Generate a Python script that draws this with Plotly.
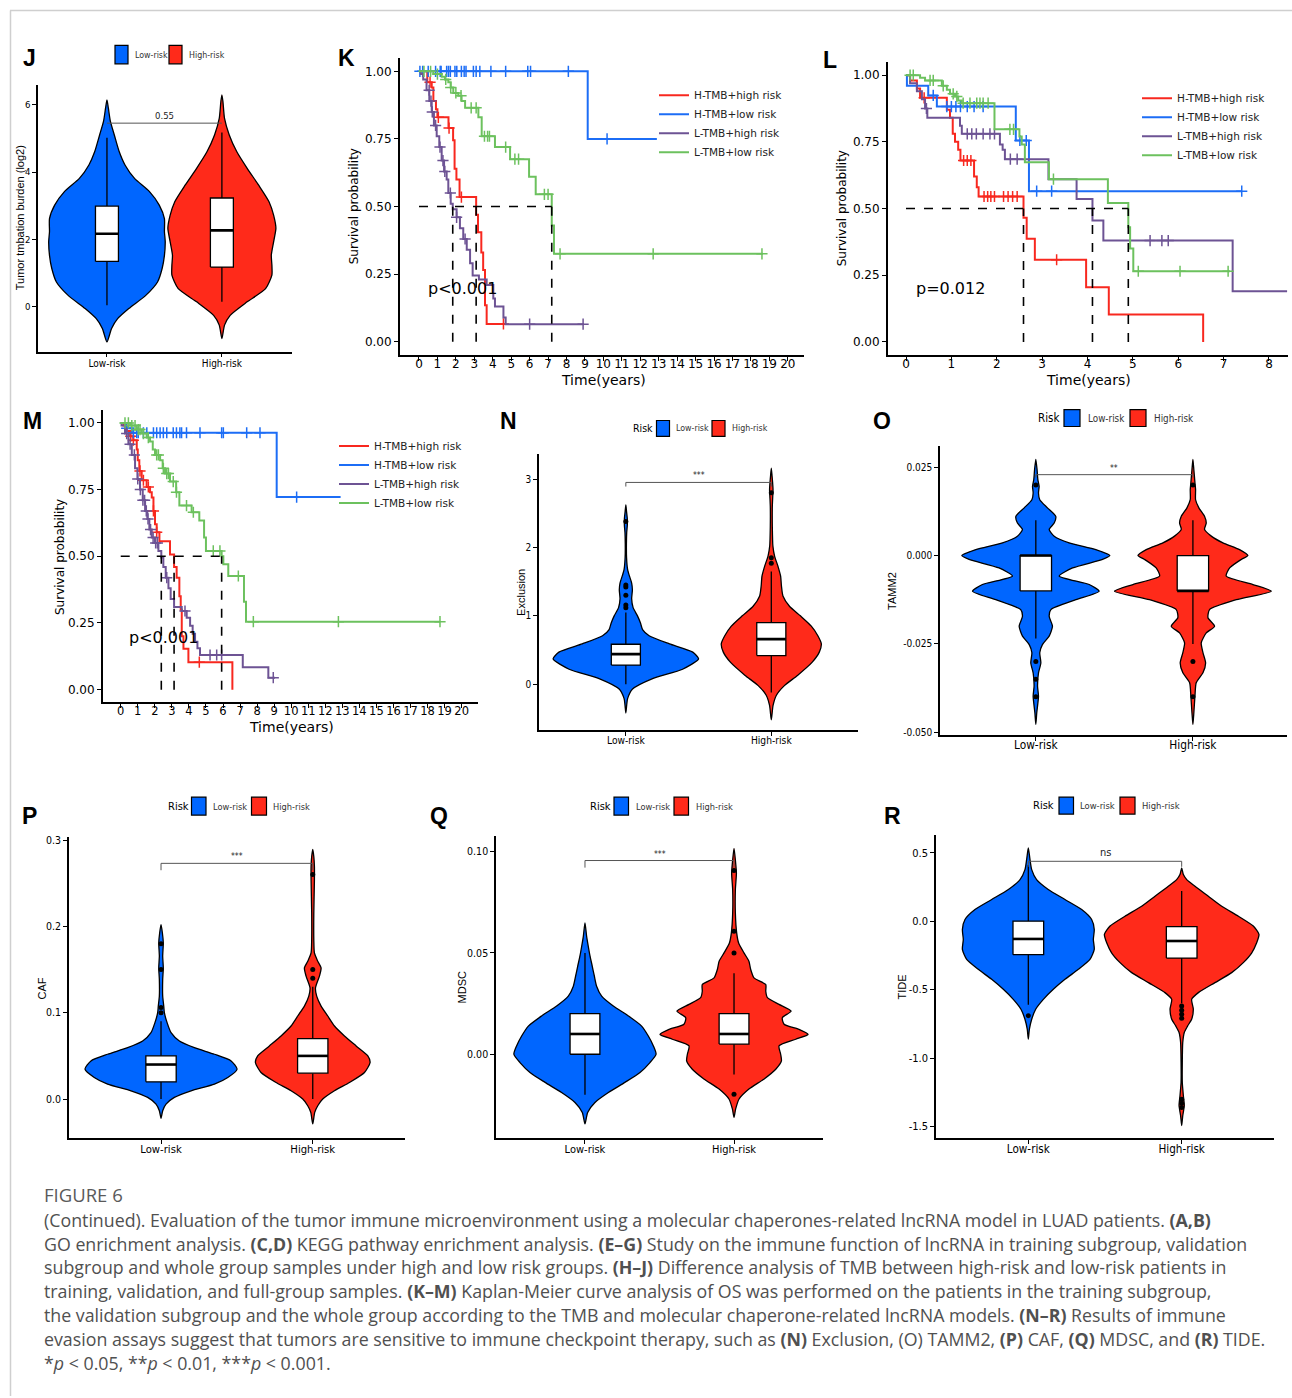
import plotly.graph_objects as go

W, H = 1292, 1398

# ------------------------------------------------------------------ data
RISK_GROUPS = ["Low-risk", "High-risk"]
KM_GROUPS = ["H-TMB+high risk", "H-TMB+low risk", "L-TMB+high risk", "L-TMB+low risk"]

# J  tumour mutation burden (log2): density profile (value, half-width)
J_low_v = [-1.04, -0.64, -0.35, -0.05, 0.35, 0.74, 1.14, 1.53, 1.93, 2.23, 2.62, 3.02, 3.42, 3.81, 4.21, 4.6, 5.1, 5.5, 5.9, 6.14]
J_low_w = [0, 0.04, 0.093, 0.19, 0.34, 0.44, 0.48, 0.5, 0.507, 0.5, 0.5, 0.455, 0.37, 0.24, 0.157, 0.107, 0.064, 0.03, 0.012, 0]
J_high_v = [-0.94, -0.54, -0.25, 0.15, 0.54, 0.94, 1.24, 1.53, 1.93, 2.33, 2.72, 3.12, 3.61, 4.11, 4.6, 5.1, 5.59, 6.09, 6.29]
J_high_w = [0, 0.023, 0.072, 0.22, 0.38, 0.435, 0.435, 0.43, 0.45, 0.47, 0.45, 0.41, 0.32, 0.22, 0.13, 0.064, 0.023, 0.009, 0]
J_q1, J_med, J_q3 = [1.35, 1.18], [2.17, 2.27], [2.99, 3.23]
J_lo, J_hi = [0.05, 0.15], [5.02, 5.17]
J_out = [[], []]
J_sig = ["0.55", 5.45, 0.0]

# N  Exclusion
N_low_v = [-0.42, -0.3, -0.21, -0.07, 0.08, 0.22, 0.37, 0.47, 0.59, 0.71, 0.8, 0.9, 1.0, 1.12, 1.25, 1.38, 1.48, 1.58, 1.68, 1.85, 2.05, 2.22, 2.32, 2.42, 2.52, 2.62]
N_low_w = [0, 0.006, 0.012, 0.046, 0.18, 0.39, 0.5, 0.46, 0.3, 0.16, 0.115, 0.1, 0.08, 0.05, 0.04, 0.045, 0.04, 0.025, 0.012, 0.005, 0.004, 0.006, 0.01, 0.01, 0.005, 0]
N_high_v = [-0.52, -0.31, -0.16, -0.02, 0.13, 0.32, 0.47, 0.59, 0.71, 0.85, 1.0, 1.14, 1.29, 1.43, 1.58, 1.73, 1.87, 2.02, 2.3, 2.6, 2.75, 2.84, 2.95, 3.05, 3.16]
N_high_w = [0, 0.012, 0.035, 0.09, 0.18, 0.28, 0.33, 0.344, 0.32, 0.275, 0.2, 0.125, 0.08, 0.07, 0.064, 0.045, 0.023, 0.011, 0.007, 0.007, 0.01, 0.012, 0.009, 0.005, 0]
N_q1, N_med, N_q3 = [0.28, 0.42], [0.44, 0.66], [0.585, 0.90]
N_lo, N_hi = [0.0, -0.12], [1.05, 1.65]
N_out = [[1.12, 1.16, 1.3, 1.42, 1.45, 2.38], [1.77, 1.85, 2.8]]
N_sig = ["***", 2.95, 0.06]

# O  TAMM2
O_low_v = [-0.0478, -0.0445, -0.0398, -0.037, -0.0332, -0.0304, -0.0275, -0.0252, -0.0228, -0.020, -0.0172, -0.0153, -0.0125, -0.0101, -0.0082, -0.0058, -0.0035, -0.0011, 0.0, 0.0017, 0.0036, 0.0055, 0.0074, 0.0092, 0.0111, 0.0135, 0.0158, 0.0177, 0.0196, 0.0215, 0.0243, 0.0272]
O_low_w = [0, 0.006, 0.017, 0.011, 0.017, 0.032, 0.025, 0.042, 0.085, 0.106, 0.085, 0.096, 0.255, 0.403, 0.34, 0.149, 0.234, 0.425, 0.471, 0.382, 0.212, 0.117, 0.085, 0.117, 0.127, 0.074, 0.025, 0.017, 0.021, 0.013, 0.008, 0]
O_high_v = [-0.0478, -0.0445, -0.0398, -0.036, -0.0332, -0.0304, -0.0275, -0.0247, -0.0219, -0.020, -0.0176, -0.0153, -0.0125, -0.0101, -0.0082, -0.0058, -0.0035, -0.0011, 0.0, 0.0017, 0.0036, 0.0055, 0.0074, 0.0092, 0.0111, 0.0135, 0.0158, 0.0187, 0.0206, 0.0243, 0.0272]
O_high_w = [0, 0.006, 0.013, 0.021, 0.064, 0.081, 0.064, 0.053, 0.085, 0.138, 0.096, 0.106, 0.276, 0.499, 0.382, 0.212, 0.234, 0.308, 0.35, 0.297, 0.191, 0.117, 0.074, 0.085, 0.074, 0.038, 0.017, 0.017, 0.013, 0.006, 0]
O_q1, O_med, O_q3 = [-0.01, -0.01], [0.0, -0.01], [0.0, 0.0]
O_lo, O_hi = [-0.0235, -0.025], [0.01, 0.01]
O_out = [[0.02, -0.03, -0.035, -0.04], [0.02, -0.03, -0.04]]
O_sig = ["**", 0.0229, 0.0008]

# P  CAF
P_low_v = [-0.0223, -0.0135, -0.0058, 0.0019, 0.0096, 0.0173, 0.025, 0.0346, 0.0442, 0.0519, 0.0596, 0.0673, 0.0769, 0.0885, 0.1, 0.1077, 0.1192, 0.1385, 0.1519, 0.1654, 0.1808, 0.1923, 0.2019]
P_low_w = [0, 0.011, 0.033, 0.088, 0.198, 0.352, 0.44, 0.501, 0.462, 0.352, 0.22, 0.121, 0.066, 0.04, 0.022, 0.018, 0.011, 0.011, 0.015, 0.011, 0.015, 0.009, 0]
P_high_v = [-0.0288, -0.0154, -0.0077, 0.0, 0.0096, 0.0192, 0.0308, 0.0423, 0.05, 0.0615, 0.0731, 0.0846, 0.0962, 0.1077, 0.1192, 0.1288, 0.1423, 0.1519, 0.1596, 0.1692, 0.1846, 0.2154, 0.2538, 0.2692, 0.2808, 0.2892]
P_high_w = [0, 0.013, 0.033, 0.066, 0.143, 0.242, 0.341, 0.378, 0.363, 0.286, 0.209, 0.143, 0.099, 0.055, 0.026, 0.018, 0.044, 0.055, 0.033, 0.011, 0.007, 0.007, 0.011, 0.011, 0.007, 0]
P_q1, P_med, P_q3 = [0.02, 0.03], [0.04, 0.05], [0.05, 0.07]
P_lo, P_hi = [0.0, 0.0], [0.09, 0.13]
P_out = [[0.10, 0.106, 0.15, 0.18], [0.14, 0.15, 0.26]]
P_sig = ["***", 0.273, 0.008]

# Q  MDSC
Q_low_v = [-0.0344, -0.0287, -0.0238, -0.0189, -0.0139, -0.009, -0.0041, 0.0, 0.0041, 0.009, 0.0139, 0.0189, 0.0238, 0.0287, 0.0336, 0.0385, 0.0434, 0.0484, 0.0533, 0.0582, 0.0648]
Q_low_w = [0, 0.018, 0.067, 0.157, 0.268, 0.369, 0.436, 0.477, 0.459, 0.425, 0.38, 0.291, 0.19, 0.112, 0.078, 0.063, 0.049, 0.034, 0.022, 0.011, 0]
Q_high_v = [-0.0311, -0.027, -0.0221, -0.0172, -0.0123, -0.0074, -0.0033, 0.0, 0.0041, 0.0074, 0.0098, 0.0123, 0.0148, 0.018, 0.0213, 0.0246, 0.0279, 0.0311, 0.0344, 0.0377, 0.0418, 0.0459, 0.05, 0.0549, 0.0598, 0.0697, 0.0811, 0.0893, 0.0959, 0.1016]
Q_high_w = [0, 0.011, 0.034, 0.1, 0.2, 0.28, 0.318, 0.313, 0.302, 0.414, 0.497, 0.436, 0.336, 0.324, 0.383, 0.302, 0.224, 0.213, 0.213, 0.134, 0.112, 0.1, 0.067, 0.031, 0.018, 0.009, 0.009, 0.016, 0.009, 0]
Q_q1, Q_med, Q_q3 = [0.0, 0.005], [0.01, 0.01], [0.02, 0.02]
Q_lo, Q_hi = [-0.02, -0.01], [0.05, 0.04]
Q_out = [[], [0.05, 0.0607, 0.0907, -0.0197]]
Q_sig = ["***", 0.0956, 0.0035]

# R  TIDE
R_low_v = [-0.862, -0.789, -0.716, -0.643, -0.571, -0.498, -0.425, -0.352, -0.279, -0.206, -0.134, -0.061, 0.012, 0.085, 0.158, 0.231, 0.303, 0.376, 0.449, 0.534]
R_low_w = [0, 0.007, 0.022, 0.048, 0.098, 0.163, 0.239, 0.326, 0.402, 0.43, 0.424, 0.43, 0.413, 0.348, 0.239, 0.13, 0.054, 0.022, 0.011, 0]
R_high_v = [-1.493, -1.42, -1.347, -1.275, -1.177, -1.032, -0.886, -0.813, -0.765, -0.716, -0.643, -0.571, -0.522, -0.449, -0.376, -0.303, -0.231, -0.158, -0.097, -0.036, 0.036, 0.109, 0.182, 0.255, 0.303, 0.34, 0.388]
R_high_w = [0, 0.007, 0.017, 0.011, 0.004, 0.004, 0.007, 0.017, 0.039, 0.065, 0.076, 0.065, 0.109, 0.217, 0.326, 0.402, 0.457, 0.489, 0.504, 0.467, 0.37, 0.261, 0.174, 0.087, 0.033, 0.011, 0]
R_q1, R_med, R_q3 = [-0.245, -0.27], [-0.13, -0.145], [0.0, -0.04]
R_lo, R_hi = [-0.61, -0.6], [0.41, 0.22]
R_out = [[-0.69], [-0.62, -0.65, -0.68, -0.71, -1.3, -1.33, -1.36]]
R_sig = ["ns", 0.437, 0.04]

# K  Kaplan-Meier, training subgroup (event times, survival after event, censor times)
K_red_t = [0.45, 0.69, 0.78, 0.92, 1.0, 1.6, 1.85, 1.93, 2.03, 2.2, 3.1, 3.2, 3.38, 3.48, 3.58, 3.67]
K_red_s = [0.96, 0.94, 0.89, 0.86, 0.83, 0.79, 0.745, 0.64, 0.6, 0.535, 0.47, 0.405, 0.33, 0.265, 0.135, 0.066]
K_red_c = [0.6, 1.05, 1.63, 2.3, 4.58]
K_blue_t = [9.15]
K_blue_s = [0.75]
K_blue_c = [0.05, 0.2, 0.5, 0.9, 1.15, 1.2, 1.5, 1.6, 1.7, 1.95, 2.05, 2.3, 2.45, 2.55, 2.95, 3.1, 3.3, 3.9, 4.7, 5.9, 6.05, 8.1, 10.2]
K_purple_t = [0.1, 0.23, 0.41, 0.56, 0.69, 0.81, 0.96, 1.1, 1.23, 1.36, 1.5, 1.59, 1.72, 1.83, 2.04, 2.22, 2.4, 2.59, 2.77, 2.91, 3.25, 3.67, 4.03, 4.12, 4.58, 4.7]
K_purple_s = [0.99, 0.97, 0.93, 0.89, 0.85, 0.80, 0.76, 0.72, 0.67, 0.63, 0.60, 0.55, 0.51, 0.49, 0.46, 0.42, 0.38, 0.34, 0.29, 0.245, 0.23, 0.21, 0.16, 0.13, 0.09, 0.065]
K_purple_c = [0.55, 0.65, 0.72, 0.9, 1.14, 1.3, 1.4, 1.7, 2.04, 2.5, 6.0, 8.9]
K_green_t = [0.78, 1.23, 1.41, 1.59, 1.72, 1.86, 2.13, 2.31, 2.5, 3.22, 3.4, 4.12, 4.94, 5.97, 6.33, 7.2, 7.32]
K_green_s = [0.99, 0.98, 0.97, 0.96, 0.94, 0.92, 0.91, 0.89, 0.865, 0.83, 0.76, 0.72, 0.675, 0.61, 0.545, 0.43, 0.325]
K_green_c = [0.27, 0.63, 1.0, 1.45, 1.72, 2.0, 2.28, 2.83, 3.1, 3.55, 3.72, 3.82, 4.7, 5.2, 5.4, 6.8, 7.0, 7.65, 12.7, 18.6]
K_end = [4.67, 12.9, 8.95, 18.65]

# L  Kaplan-Meier, validation subgroup
L_red_t = [0.09, 0.24, 0.31, 0.9, 0.97, 1.03, 1.08, 1.15, 1.2, 1.5, 1.56, 1.6, 2.59, 2.66, 2.84, 3.97, 4.47, 6.55]
L_red_s = [0.98, 0.95, 0.915, 0.87, 0.84, 0.78, 0.75, 0.72, 0.68, 0.62, 0.58, 0.545, 0.465, 0.387, 0.308, 0.205, 0.103, 0.0]
L_red_c = [0.4, 1.27, 1.35, 1.43, 1.72, 1.8, 1.87, 1.95, 2.15, 2.25, 2.35, 2.45, 3.32]
L_blue_t = [0.02, 0.49, 0.68, 2.42, 2.71]
L_blue_s = [0.96, 0.924, 0.882, 0.755, 0.565]
L_blue_c = [0.6, 0.9, 1.0, 1.1, 1.2, 1.35, 1.5, 1.7, 2.51, 2.65, 2.88, 3.21, 7.4]
L_purple_t = [0.09, 0.24, 0.35, 0.42, 0.47, 1.19, 1.23, 2.07, 2.13, 2.18, 3.14, 3.76, 4.11, 4.35, 7.2]
L_purple_s = [0.97, 0.94, 0.91, 0.875, 0.84, 0.81, 0.78, 0.74, 0.72, 0.685, 0.61, 0.536, 0.455, 0.38, 0.19]
L_purple_c = [0.45, 1.35, 1.45, 1.55, 1.7, 1.85, 1.95, 2.3, 2.45, 5.38, 5.64, 5.78]
L_green_t = [0.31, 0.42, 0.79, 0.9, 0.97, 1.08, 1.15, 1.23, 1.95, 2.5, 2.55, 2.62, 3.15, 4.45, 4.9, 4.94, 5.01]
L_green_s = [0.99, 0.98, 0.96, 0.945, 0.93, 0.92, 0.905, 0.895, 0.797, 0.77, 0.74, 0.673, 0.61, 0.521, 0.43, 0.35, 0.265]
L_green_c = [0.09, 0.16, 0.53, 0.6, 0.82, 1.04, 1.12, 1.26, 1.41, 1.56, 1.63, 1.7, 1.81, 2.29, 2.37, 3.25, 5.12, 6.04, 7.1]
L_end = [6.55, 7.4, 8.4, 7.14]

# M  Kaplan-Meier, whole group
M_red_t = [0.16, 0.35, 0.55, 0.74, 0.94, 1.0, 1.09, 1.23, 1.52, 1.72, 1.82, 1.92, 2.01, 2.11, 2.27, 2.89, 3.13, 3.28, 3.44, 3.52, 3.58, 3.68, 3.97, 6.55]
M_red_s = [0.99, 0.97, 0.95, 0.935, 0.9, 0.86, 0.82, 0.785, 0.76, 0.74, 0.72, 0.67, 0.62, 0.59, 0.556, 0.507, 0.46, 0.42, 0.35, 0.3, 0.2, 0.153, 0.103, 0.0]
M_red_c = [0.59, 0.74, 1.13, 1.33, 1.62, 1.92, 2.11, 4.61]
M_blue_t = [0.3, 0.65, 9.15]
M_blue_s = [0.98, 0.963, 0.722]
M_blue_c = [0.35, 0.74, 0.94, 1.03, 1.33, 1.53, 1.92, 2.11, 2.31, 2.5, 2.7, 3.08, 3.27, 3.47, 3.57, 3.86, 4.65, 5.92, 6.02, 7.39, 8.17, 10.32]
M_purple_t = [0.05, 0.25, 0.45, 0.65, 0.84, 0.98, 1.13, 1.29, 1.43, 1.56, 1.68, 1.82, 2.01, 2.21, 2.38, 2.5, 2.64, 2.8, 2.93, 3.13, 3.58, 3.87, 4.07, 4.22, 4.36, 4.5, 4.65, 7.16, 8.66]
M_purple_s = [0.99, 0.96, 0.92, 0.88, 0.83, 0.79, 0.75, 0.71, 0.67, 0.64, 0.60, 0.57, 0.55, 0.52, 0.495, 0.46, 0.42, 0.38, 0.34, 0.31, 0.295, 0.27, 0.24, 0.21, 0.18, 0.155, 0.13, 0.084, 0.045]
M_purple_c = [0.35, 0.55, 0.8, 1.0, 1.15, 1.3, 1.4, 1.5, 1.6, 1.75, 1.9, 2.05, 2.15, 2.7, 3.77, 5.24, 5.63, 5.92, 8.95]
M_green_t = [0.55, 0.94, 1.23, 1.52, 1.72, 1.88, 2.01, 2.31, 2.46, 2.6, 2.89, 3.25, 3.44, 4.16, 4.61, 4.89, 5.0, 5.92, 6.02, 6.31, 7.23, 7.35]
M_green_s = [0.99, 0.975, 0.96, 0.945, 0.93, 0.9, 0.88, 0.86, 0.83, 0.81, 0.78, 0.74, 0.69, 0.665, 0.634, 0.57, 0.52, 0.5, 0.47, 0.426, 0.33, 0.255]
M_green_c = [0.25, 0.45, 0.65, 0.84, 1.03, 1.13, 1.33, 1.62, 2.11, 2.21, 2.5, 2.7, 2.8, 3.08, 3.27, 3.86, 4.26, 5.43, 5.82, 6.9, 7.78, 12.77, 18.73]
M_end = [6.55, 12.9, 9.05, 18.73]

K_P, L_P, M_P = "p<0.001", "p=0.012", "p<0.001"

# tick labels
SURV_TICKS = [0, 0.25, 0.5, 0.75, 1.0]
SURV_LABELS = ["0.00", "0.25", "0.50", "0.75", "1.00"]
YEARS_20 = list(range(0, 21))
YEARS_8 = list(range(0, 9))
J_TICKS, J_LABELS = [0, 2, 4, 6], ["0", "2", "4", "6"]
N_TICKS, N_LABELS = [0, 1, 2, 3], ["0", "1", "2", "3"]
O_TICKS, O_LABELS = [-0.05, -0.025, 0.0, 0.025], ["-0.050", "-0.025", "0.000", "0.025"]
P_TICKS, P_LABELS = [0.0, 0.1, 0.2, 0.3], ["0.0", "0.1", "0.2", "0.3"]
Q_TICKS, Q_LABELS = [0.0, 0.05, 0.10], ["0.00", "0.05", "0.10"]
R_TICKS, R_LABELS = [-1.5, -1.0, -0.5, 0.0, 0.5], ["-1.5", "-1.0", "-0.5", "0.0", "0.5"]

CAPTION_TITLE = "FIGURE 6"
CAPTION_LINES = [
    "(Continued). Evaluation of the tumor immune microenvironment using a molecular chaperones-related lncRNA model in LUAD patients. <b>(A,B)</b>",
    "GO enrichment analysis. <b>(C,D)</b> KEGG pathway enrichment analysis. <b>(E–G)</b> Study on the immune function of lncRNA in training subgroup, validation",
    "subgroup and whole group samples under high and low risk groups. <b>(H–J)</b> Difference analysis of TMB between high-risk and low-risk patients in",
    "training, validation, and full-group samples. <b>(K–M)</b> Kaplan-Meier curve analysis of OS was performed on the patients in the training subgroup,",
    "the validation subgroup and the whole group according to the TMB and molecular chaperone-related lncRNA models. <b>(N–R)</b> Results of immune",
    "evasion assays suggest that tumors are sensitive to immune checkpoint therapy, such as <b>(N)</b> Exclusion, (O) TAMM2, <b>(P)</b> CAF, <b>(Q)</b> MDSC, and <b>(R)</b> TIDE.",
    "*<i>p</i> &lt; 0.05, **<i>p</i> &lt; 0.01, ***<i>p</i> &lt; 0.001.",
]

# ------------------------------------------------------------------ style
LOW_COL, HIGH_COL = "#0066FF", "#FF2A1A"
KM_COLS = ["#F8281F", "#1C6DF6", "#6D5394", "#6CC15E"]
KM_FONT = "DejaVu Sans, Verdana, sans-serif"
NARROW = "DejaVu Sans Condensed, DejaVu Sans, sans-serif"
SANS = "Liberation Sans, Arial, Helvetica, sans-serif"
CAP_FONT = "Open Sans, Lato, sans-serif"
BOX_W = 0.2

fig = go.Figure()
shapes, annotations = [], []


def fx(px):
    return px / W


def fy(py):
    return 1 - py / H


def names(i):
    s = "" if i == 1 else str(i)
    return "x" + s, "y" + s, "xaxis" + s, "yaxis" + s


def add_axes(i, box, xr, yr, xtv, xtt, ytv, ytt, xfont, yfont, lw, xstand):
    xn, yn, xk, yk = names(i)
    left, top, right, bottom = box
    common = dict(showline=True, linecolor="black", linewidth=lw, ticks="outside",
                  ticklen=4, tickwidth=1.2, tickcolor="black", showgrid=False,
                  zeroline=False, fixedrange=True, tickmode="array", tickangle=0)
    fig.update_layout(**{
        xk: dict(domain=[fx(left), fx(right)], range=xr, anchor=yn, tickvals=xtv,
                 ticktext=xtt, tickfont=xfont, ticklabelstandoff=xstand, **common),
        yk: dict(domain=[fy(bottom), fy(top)], range=yr, anchor=xn, tickvals=ytv,
                 ticktext=ytt, tickfont=yfont, **common),
    })


def text(x, y, s, size, family, color="black", angle=0, xanchor="center", yanchor="middle"):
    annotations.append(dict(x=fx(x), y=fy(y), xref="paper", yref="paper", text=s,
                            showarrow=False, textangle=angle, xanchor=xanchor,
                            yanchor=yanchor, font=dict(size=size, family=family, color=color)))


def letter(x, y, s):
    text(x, y, "<b>%s</b>" % s, 23, SANS, xanchor="left")


def risk_legend(title_x, boxes, label_xs, y0, y1, size, title_size=None):
    if title_size:
        text(title_x, (y0 + y1) / 2, "Risk", title_size, NARROW, xanchor="left")
    for (bx0, bx1), lx, col, lab in zip(boxes, label_xs, [LOW_COL, HIGH_COL], RISK_GROUPS):
        shapes.append(dict(type="rect", xref="paper", yref="paper", x0=fx(bx0), x1=fx(bx1),
                           y0=fy(y1), y1=fy(y0), fillcolor=col,
                           line=dict(color="black", width=1.2)))
        text(lx, (y0 + y1) / 2, lab, size, NARROW, color="#333", xanchor="left")


def line_trace(xs, ys, xn, yn, width, color="black"):
    return go.Scatter(x=xs, y=ys, mode="lines", line=dict(color=color, width=width),
                      showlegend=False, hoverinfo="skip", xaxis=xn, yaxis=yn)


def violin_panel(i, box, xr, yr, ytv, ytt, profiles, q1, med, q3, lo, hi, outliers, sig,
                 tick_size, cat_size, sig_size, xstand):
    xn, yn, _, _ = names(i)
    add_axes(i, box, xr, yr, [1, 2], RISK_GROUPS, ytv, ytt,
             dict(family=NARROW, size=cat_size, color="black"),
             dict(family=NARROW, size=tick_size, color="black"), 1.5, xstand)
    hw = BOX_W / 2
    for g, col in enumerate([LOW_COL, HIGH_COL]):
        c = g + 1
        v, w = profiles[g]
        # violin outline: right side upwards, left side back down
        xs = [c + a for a in w] + [c - a for a in reversed(w[1:-1])] + [c + w[0]]
        ys = list(v) + list(reversed(v[1:-1])) + [v[0]]
        fig.add_trace(go.Scatter(x=xs, y=ys, mode="lines", fill="toself", fillcolor=col,
                                 line=dict(color="black", width=1.3, shape="spline", smoothing=0.6),
                                 name=RISK_GROUPS[g], showlegend=False, hoverinfo="skip",
                                 xaxis=xn, yaxis=yn))
        # whiskers
        fig.add_trace(line_trace([c, c, None, c, c], [lo[g], q1[g], None, q3[g], hi[g]], xn, yn, 1.3))
        # box
        fig.add_trace(go.Scatter(x=[c - hw, c + hw, c + hw, c - hw, c - hw],
                                 y=[q1[g], q1[g], q3[g], q3[g], q1[g]], mode="lines",
                                 fill="toself", fillcolor="white",
                                 line=dict(color="black", width=1.3), showlegend=False,
                                 hoverinfo="skip", xaxis=xn, yaxis=yn))
        # median
        fig.add_trace(line_trace([c - hw, c + hw], [med[g], med[g]], xn, yn, 2.6))
        if outliers[g]:
            fig.add_trace(go.Scatter(x=[c] * len(outliers[g]), y=outliers[g], mode="markers",
                                     marker=dict(color="black", size=5), showlegend=False,
                                     hoverinfo="skip", xaxis=xn, yaxis=yn))
    label, h, drop = sig
    shapes.append(dict(type="path", xref=xn, yref=yn,
                       path="M 1,%g L 1,%g L 2,%g L 2,%g" % (h - drop, h, h, h - drop),
                       line=dict(color="#555", width=1)))
    annotations.append(dict(x=1.5, y=h, xref=xn, yref=yn, text=label, showarrow=False,
                            yanchor="bottom", yshift=0,
                            font=dict(size=sig_size, family=NARROW, color="#222")))


def km_path(t, s, end):
    return [0.0] + list(t) + [end], [1.0] + list(s) + [s[-1] if s else 1.0]


def surv_at(x, t, s):
    v = 1.0
    for ti, si in zip(t, s):
        if ti <= x:
            v = si
    return v


def median_time(t, s):
    for ti, si in zip(t, s):
        if si <= 0.5:
            return ti
    return None


def km_panel(i, box, xr, xtv, curves, ends, legend_name, xtick_size):
    xn, yn, _, _ = names(i)
    add_axes(i, box, xr, [-0.048, 1.05], xtv, [str(v) for v in xtv], SURV_TICKS, SURV_LABELS,
             dict(family=KM_FONT, size=xtick_size, color="black"),
             dict(family=KM_FONT, size=12, color="black"), 2, -7)
    meds = []
    for (t, s, c), end, col, name in zip(curves, ends, KM_COLS, KM_GROUPS):
        xs, ys = km_path(t, s, end)
        fig.add_trace(go.Scatter(x=xs, y=ys, mode="lines", line=dict(color=col, width=2, shape="hv"),
                                 name=name, legend=legend_name, showlegend=True, hoverinfo="skip",
                                 xaxis=xn, yaxis=yn))
        fig.add_trace(go.Scatter(x=c, y=[surv_at(x, t, s) for x in c], mode="markers",
                                 marker=dict(symbol="cross-thin", size=8, line=dict(color=col, width=1.5)),
                                 showlegend=False, hoverinfo="skip", xaxis=xn, yaxis=yn))
        m = median_time(t, s)
        if m is not None:
            meds.append(m)
    dash = dict(color="black", width=1.6, dash="dash")
    if meds:
        shapes.append(dict(type="line", xref=xn, yref=yn, x0=0, x1=max(meds), y0=0.5, y1=0.5, line=dash))
        for m in meds:
            shapes.append(dict(type="line", xref=xn, yref=yn, x0=m, x1=m, y0=0, y1=0.5, line=dash))


# ------------------------------------------------------------------ panel J
violin_panel(1, (38, 82, 292, 350), [0.4, 2.61], [-1.33, 6.59], J_TICKS, J_LABELS,
             [(J_low_v, J_low_w), (J_high_v, J_high_w)], J_q1, J_med, J_q3, J_lo, J_hi, J_out,
             J_sig, 9.5, 10, 9.5, -2)
letter(21, 55, "J")
risk_legend(0, [(115, 128), (169, 182)], [132.5, 186.5], 42.5, 61, 8.8)
text(20, 216, "Tumor tmbation burden (log2)", 11, SANS, angle=-90)

# ------------------------------------------------------------------ panel K
km_panel(2, (400, 55, 804, 353), [-1.03, 20.88], YEARS_20,
         [(K_red_t, K_red_s, K_red_c), (K_blue_t, K_blue_s, K_blue_c),
          (K_purple_t, K_purple_s, K_purple_c), (K_green_t, K_green_s, K_green_c)],
         K_end, "legend", 12)
letter(336, 55, "K")
text(354, 204, "Survival probability", 12, KM_FONT, angle=-90)
text(603, 378, "Time(years)", 14, KM_FONT)
text(426, 287, K_P, 16, KM_FONT, xanchor="left")

# ------------------------------------------------------------------ panel L
km_panel(3, (888, 59, 1288, 353), [-0.397, 8.42], YEARS_8,
         [(L_red_t, L_red_s, L_red_c), (L_blue_t, L_blue_s, L_blue_c),
          (L_purple_t, L_purple_s, L_purple_c), (L_green_t, L_green_s, L_green_c)],
         L_end, "legend2", 12)
letter(821, 57, "L")
text(842, 206, "Survival probability", 12, KM_FONT, angle=-90)
text(1088, 378, "Time(years)", 14, KM_FONT)
text(914, 287, L_P, 16, KM_FONT, xanchor="left")

# ------------------------------------------------------------------ panel M
km_panel(4, (103, 408, 478, 702), [-1.04, 20.96], YEARS_20,
         [(M_red_t, M_red_s, M_red_c), (M_blue_t, M_blue_s, M_blue_c),
          (M_purple_t, M_purple_s, M_purple_c), (M_green_t, M_green_s, M_green_c)],
         M_end, "legend3", 11.5)
letter(21, 420, "M")
text(60, 556, "Survival probability", 12, KM_FONT, angle=-90)
text(291, 727, "Time(years)", 14, KM_FONT)
text(127, 637, M_P, 16, KM_FONT, xanchor="left")

# ------------------------------------------------------------------ panel N
violin_panel(5, (539, 453, 858, 730), [0.403, 2.596], [-0.674, 3.36], N_TICKS, N_LABELS,
             [(N_low_v, N_low_w), (N_high_v, N_high_w)], N_q1, N_med, N_q3, N_lo, N_hi, N_out,
             N_sig, 10, 10.2, 8.5, -4)
letter(498, 419, "N")
risk_legend(631, [(656.5, 669.5), (712, 725)], [673.5, 729.5], 419, 435, 8.8, 10.5)
text(521, 592, "Exclusion", 11, SANS, angle=-90)

# ------------------------------------------------------------------ panel O
violin_panel(6, (940, 445, 1287, 735), [0.39, 2.599], [-0.0509, 0.0309], O_TICKS, O_LABELS,
             [(O_low_v, O_low_w), (O_high_v, O_high_w)], O_q1, O_med, O_q3, O_lo, O_hi, O_out,
             O_sig, 10, 11.8, 8.5, -6)
letter(871, 419, "O")
risk_legend(1036, [(1064, 1080), (1130, 1146)], [1085.5, 1151.5], 408, 425, 9.8, 11.5)
text(892, 590, "TAMM2", 11, SANS, angle=-90)

# ------------------------------------------------------------------ panel P
violin_panel(7, (69, 837, 405, 1139), [0.3935, 2.608], [-0.045, 0.3035], P_TICKS, P_LABELS,
             [(P_low_v, P_low_w), (P_high_v, P_high_w)], P_q1, P_med, P_q3, P_lo, P_hi, P_out,
             P_sig, 10.5, 11.2, 8.5, -4)
letter(20, 816, "P")
risk_legend(166, [(191.5, 206), (251.5, 266.5)], [211, 271], 797, 815, 9.2, 11)
text(42, 989, "CAF", 11, SANS, angle=-90)

# ------------------------------------------------------------------ panel Q
violin_panel(8, (496, 836, 823, 1139), [0.403, 2.597], [-0.0413, 0.1077], Q_TICKS, Q_LABELS,
             [(Q_low_v, Q_low_w), (Q_high_v, Q_high_w)], Q_q1, Q_med, Q_q3, Q_lo, Q_hi, Q_out,
             Q_sig, 10.5, 11, 8.5, -4)
letter(428, 816, "Q")
risk_legend(588, [(614, 628.5), (674, 688.5)], [633.5, 693.5], 797, 815, 9.2, 11)
text(462, 988, "MDSC", 11, SANS, angle=-90)

# ------------------------------------------------------------------ panel R
violin_panel(9, (936, 835, 1274, 1139), [0.398, 2.602], [-1.583, 0.629], R_TICKS, R_LABELS,
             [(R_low_v, R_low_w), (R_high_v, R_high_w)], R_q1, R_med, R_q3, R_lo, R_hi, R_out,
             R_sig, 11, 11.6, 11, -5)
letter(882, 816, "R")
risk_legend(1031, [(1059, 1073.5), (1120, 1135)], [1078, 1139.5], 797, 814, 9.4, 11)
text(902, 988, "TIDE", 11, SANS, angle=-90)

# ------------------------------------------------------------------ caption
text(42, 1196, CAPTION_TITLE, 18.5, CAP_FONT, color="#5a5a5a", xanchor="left")
for k, line in enumerate(CAPTION_LINES):
    text(42, 1221 + 24 * k, line, 17.8, CAP_FONT, color="#505050", xanchor="left")

# page frame
shapes.append(dict(type="line", xref="paper", yref="paper", x0=fx(10), x1=1.0, y0=fy(7.5), y1=fy(7.5),
                   line=dict(color="#cfcfcf", width=1.5)))
shapes.append(dict(type="line", xref="paper", yref="paper", x0=fx(10.5), x1=fx(10.5), y0=0, y1=fy(7.5),
                   line=dict(color="#cfcfcf", width=1.5)))

legend_style = dict(xanchor="left", yanchor="top", bgcolor="rgba(0,0,0,0)", borderwidth=0,
                    itemwidth=30, font=dict(family=KM_FONT, size=10.5, color="#222"),
                    tracegroupgap=0)
fig.update_layout(
    width=W, height=H, margin=dict(l=0, r=0, t=0, b=0),
    paper_bgcolor="white", plot_bgcolor="white",
    shapes=shapes, annotations=annotations,
    legend=dict(x=fx(654), y=fy(78), **legend_style),
    legend2=dict(x=fx(1137), y=fy(81), **legend_style),
    legend3=dict(x=fx(334), y=fy(430), **legend_style),
)

fig.write_html("out.html")
